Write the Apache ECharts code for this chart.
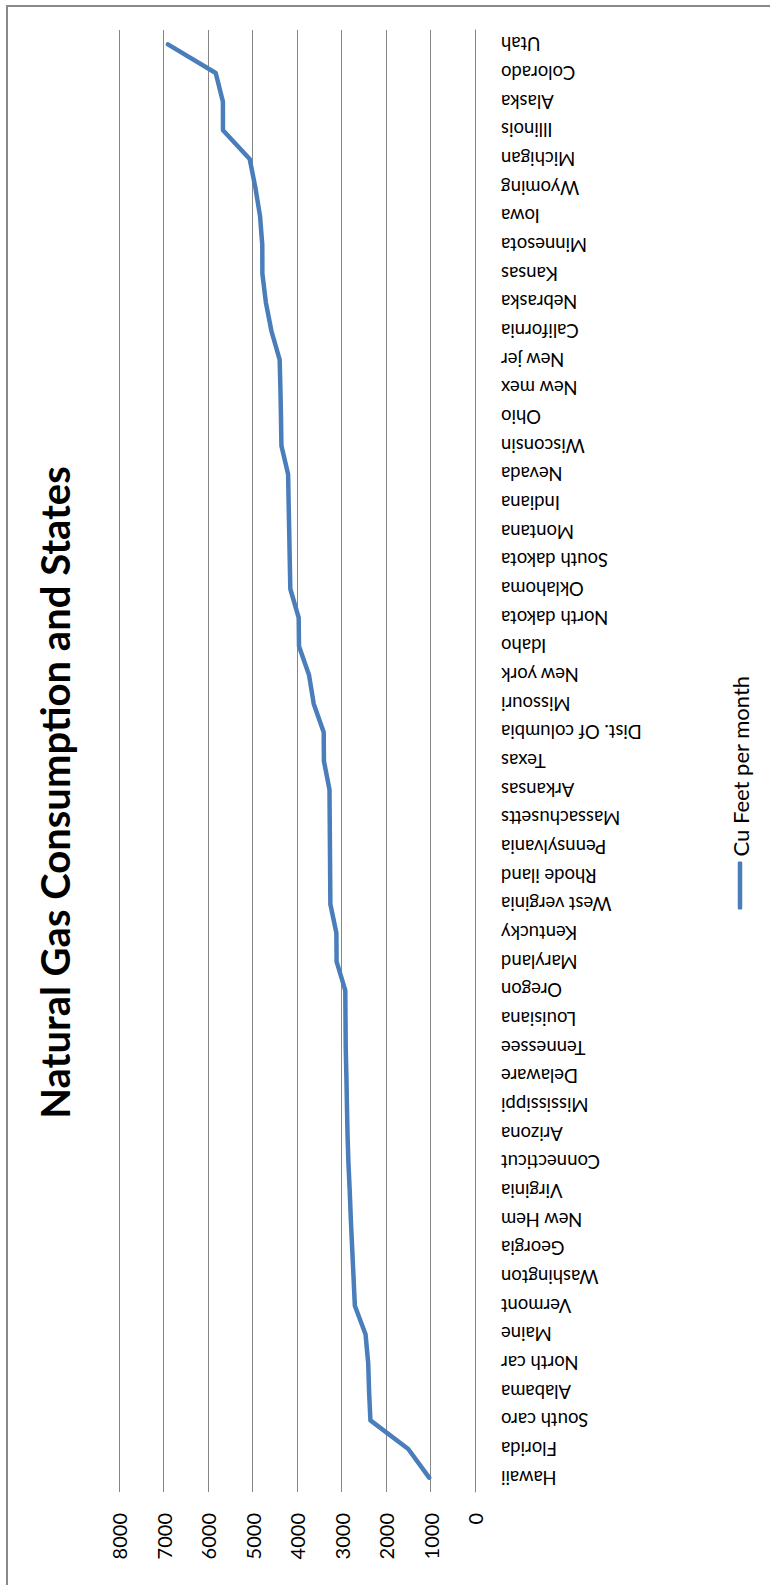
<!DOCTYPE html>
<html>
<head>
<meta charset="utf-8">
<script src="https://cdn.jsdelivr.net/npm/echarts@6/dist/echarts.min.js"></script>
<style>
  html, body { margin: 0; padding: 0; width: 770px; height: 1585px; overflow: hidden; background: #fff; }
  #chart {
    position: absolute; left: 0; top: 0;
    width: 1585px; height: 770px;
    transform-origin: 0 0;
    transform: translate(0, 1585px) rotate(-90deg);
  }
</style>
</head>
<body>
<div id="chart"></div>
<script>
const titleText = 'Natural Gas Consumption and States';
const seriesName = 'Cu Feet per month';
const states = ['Hawaii','Florida','South caro','Alabama','North car','Maine','Vermont','Washington','Georgia','New Hem','Virginia','Connecticut','Arizona','Mississippi','Delaware','Tennessee','Louisiana','Oregon','Maryland','Kentucky','West verginia','Rhode iland','Pennsylvania','Massachusetts','Arkansas','Texas','Dist. Of columbia','Missouri','New york','Idaho','North dakota','Oklahoma','South dakota','Montana','Indiana','Nevada','Wisconsin','Ohio','New mex','New jer','California','Nebraska','Kansas','Minnesota','Iowa','Wyoming','Michigan','Illinois','Alaska','Colorado','Utah'];
const consumption = [1030,1500,2350,2380,2400,2460,2700,2730,2760,2790,2815,2845,2865,2878,2890,2905,2910,2915,3110,3115,3250,3255,3260,3265,3270,3395,3400,3625,3730,3955,3962,4150,4163,4175,4188,4200,4350,4360,4373,4390,4575,4700,4778,4780,4830,4935,5063,5663,5665,5827,6900];
const valueMin = 0, valueMax = 8000, valueStep = 1000;

const FONT = 'Lato, "Open Sans", sans-serif';
const chart = echarts.init(document.getElementById('chart'), null, { renderer: 'svg' });
chart.setOption({
  animation: false,
  backgroundColor: '#ffffff',
  graphic: [{
    type: 'rect',
    shape: { x: -20, y: 7, width: 1599, height: 800 },
    style: { fill: 'none', stroke: '#898989', lineWidth: 2 },
    silent: true, z: 0
  }],
  title: {
    text: titleText,
    left: 'center',
    top: 30,
    textStyle: { fontFamily: FONT, fontWeight: 'bold', fontSize: 40, color: '#000' }
  },
  legend: {
    bottom: 14,
    left: 'center',
    itemWidth: 48,
    itemHeight: 4.5,
    itemGap: 10,
    textStyle: { fontFamily: FONT, fontSize: 22, color: '#000' },
    data: [{ name: seriesName, icon: 'roundRect' }]
  },
  grid: { left: 93, right: 30, top: 119, bottom: 295, containLabel: false },
  xAxis: {
    type: 'category',
    data: states,
    boundaryGap: true,
    axisLine: { show: true, lineStyle: { color: '#868686', width: 1 } },
    axisTick: { show: false },
    axisLabel: {
      interval: 0, rotate: 90, margin: 26,
      fontFamily: FONT, fontSize: 18.5, color: '#000'
    }
  },
  yAxis: {
    type: 'value',
    min: valueMin, max: valueMax, interval: valueStep,
    axisLine: { show: false },
    axisTick: { show: false },
    splitLine: { lineStyle: { color: '#868686', width: 1 } },
    axisLabel: { margin: 21, fontFamily: FONT, fontSize: 20, color: '#000', formatter: v => String(v) }
  },
  series: [{
    name: seriesName,
    type: 'line',
    data: consumption,
    symbol: 'none',
    lineStyle: { color: '#4a7ebb', width: 4.5, cap: 'round', join: 'round' },
    itemStyle: { color: '#4a7ebb' }
  }]
});
</script>
</body>
</html>
